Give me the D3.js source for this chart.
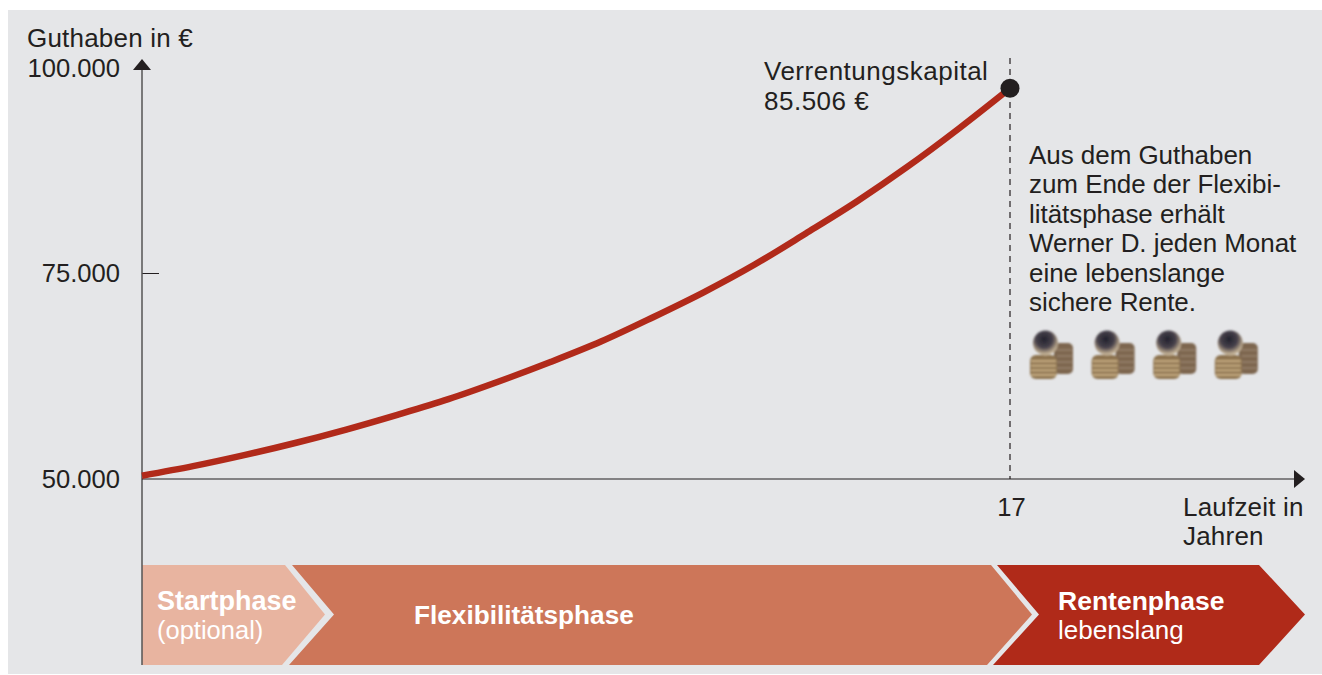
<!DOCTYPE html>
<html>
<head>
<meta charset="utf-8" />
<title>Guthaben</title>
<script src="https://cdnjs.cloudflare.com/ajax/libs/d3/7.8.5/d3.min.js"></script>
<style>
  html, body { margin: 0; padding: 0; background: #fff; }
  svg { display: block; font-family: "Liberation Sans", sans-serif; }
</style>
</head>
<body>
<svg id="chart" width="1322" height="675"></svg>
<script>
  // values
  const years = [0, 1, 2, 3, 4, 5, 6, 7, 8, 9, 10, 11, 12, 13, 14, 15, 16, 17]
  const balance = [50400, 51560, 52900, 54380, 56020, 57810, 59710, 61890, 64230, 66750, 69650, 72710, 76090, 79870, 83760, 88020, 92640, 97530]
  const yTicks = [50000, 75000, 100000]
  const yTickLabels = ['50.000', '75.000', '100.000']
  const xTicks = [17]
  const noteLines = ['Aus dem Guthaben', 'zum Ende der Flexibi-', 'litätsphase erhält', 'Werner D. jeden Monat', 'eine lebenslange', 'sichere Rente.']
  const peakLines = ['Verrentungskapital', '85.506 €']
  const coinSlots = [0, 1, 2, 3]
  const coinBands = [0, 1, 2, 3]

  const svg = d3.select('#chart')
  const x = d3.scaleLinear().domain([0, 17]).range([142, 1010])
  const y = d3.scaleLinear().domain([50000, 100000]).range([479, 68])
  const ink = '#231f20'

  const defs = svg.append('defs')
  defs.append('filter').attr('id', 'soft').append('feGaussianBlur').attr('stdDeviation', 0.8)
  const ball = defs.append('radialGradient').attr('id', 'ball').attr('cx', '45%').attr('cy', '35%').attr('r', '62%')
  ball.append('stop').attr('offset', '0%').attr('stop-color', '#23232e')
  ball.append('stop').attr('offset', '55%').attr('stop-color', '#48424c')
  ball.append('stop').attr('offset', '85%').attr('stop-color', '#a79680')
  ball.append('stop').attr('offset', '100%').attr('stop-color', '#c9b89c')

  svg.append('rect').attr('x', 8).attr('y', 10).attr('width', 1314).attr('height', 664).attr('fill', '#e5e6e8')

  // phase arrows
  const phase = svg.append('g')
  phase.append('path').attr('d', 'M997,565H1259L1305,614.5L1259,665H993L1039,614.5Z').attr('fill', '#b02a19')
  phase.append('path').attr('d', 'M292,565H991L1032,614.5L987,665H289L334,614.5Z').attr('fill', '#cd7659')
  phase.append('path').attr('d', 'M142,565H285L325,614.5L282,665H142Z').attr('fill', '#e8b4a0')

  const label = (px, py, str, size, weight) => svg.append('text').attr('x', px).attr('y', py)
    .attr('font-size', size).attr('font-weight', weight || 400).attr('fill', '#fff').text(str)
  label(157, 610, 'Startphase', 27, 700)
  label(157, 639, '(optional)', 25.5)
  label(414, 624, 'Flexibilitätsphase', 26.2, 700)
  label(1058, 610, 'Rentenphase', 26.5, 700)
  label(1058, 639, 'lebenslang', 26)

  // axes
  const yAxis = d3.axisLeft(y).tickValues(yTicks).tickSize(0).tickFormat((d, i) => yTickLabels[i])
  const yG = svg.append('g').attr('transform', 'translate(142,0)').call(yAxis)
  yG.select('.domain').remove()
  yG.selectAll('text').attr('x', -22).attr('font-size', 25.6).attr('font-family', 'inherit').attr('fill', ink)
  svg.append('line').attr('x1', 142).attr('x2', 159).attr('y1', y(75000)).attr('y2', y(75000)).attr('stroke', ink).attr('stroke-width', 1)

  const xAxis = d3.axisBottom(x).tickValues(xTicks).tickSize(0)
  const xG = svg.append('g').attr('transform', 'translate(0,479)').call(xAxis)
  xG.select('.domain').remove()
  xG.selectAll('text').attr('dy', 0).attr('y', 37).attr('x', 1).attr('font-size', 25.6).attr('font-family', 'inherit').attr('fill', ink)

  svg.append('line').attr('x1', 142).attr('x2', 142).attr('y1', 68).attr('y2', 665).attr('stroke', '#555').attr('stroke-width', 1.5)
  svg.append('line').attr('x1', 142).attr('x2', 1296).attr('y1', 479).attr('y2', 479).attr('stroke', ink).attr('stroke-width', 1.2)
  svg.append('path').attr('d', 'M142,59L151,70H133Z').attr('fill', ink)
  svg.append('path').attr('d', 'M1305,479L1294,470V488Z').attr('fill', ink)

  svg.append('line').attr('x1', x(17)).attr('x2', x(17)).attr('y1', 58).attr('y2', 479)
    .attr('stroke', ink).attr('stroke-width', 1.2).attr('stroke-dasharray', '6 5')

  // curve
  const line = d3.line().x((d, i) => x(years[i])).y(d => y(d)).curve(d3.curveCatmullRom)
  svg.append('path').datum(balance).attr('d', line).attr('fill', 'none').attr('stroke', '#b12a1a').attr('stroke-width', 6.5)
  svg.append('circle').attr('cx', x(17)).attr('cy', y(97530)).attr('r', 9.5).attr('fill', ink)

  // texts
  const block = (lines, px, py, lh, sp) => svg.append('g').selectAll('text').data(lines).enter().append('text')
    .attr('x', px).attr('y', (d, i) => py + i * lh).attr('font-size', 26).attr('letter-spacing', sp).attr('fill', ink).text(d => d)
  block(['Guthaben in €'], 27, 47, 0, 0.2)
  block(peakLines, 764, 80, 30, 0.5)
  block(noteLines, 1029, 164, 29.4, -0.05)
  block(['Laufzeit in', 'Jahren'], 1183, 516, 29, 0.2)

  // coin stacks, small drawn icon
  const coin = svg.append('g').attr('filter', 'url(#soft)').selectAll('g').data(coinSlots).enter().append('g')
    .attr('transform', d => 'translate(' + (1030 + d * 61.6) + ',330)')
  coin.append('rect').attr('x', 24).attr('y', 13).attr('width', 19).attr('height', 31).attr('rx', 5).attr('fill', '#7d6650')
  coin.selectAll('rect.back').data(coinBands).enter().append('rect').attr('class', 'back')
    .attr('x', 27).attr('y', b => 19 + b * 6).attr('width', 15).attr('height', 2).attr('fill', '#a8927a').attr('opacity', 0.5)
  coin.append('rect').attr('x', 0).attr('y', 25).attr('width', 27).attr('height', 24).attr('rx', 6).attr('fill', '#8d7350')
  coin.selectAll('rect.front').data(coinBands).enter().append('rect').attr('class', 'front')
    .attr('x', 1).attr('y', b => 30 + b * 4.6).attr('width', 25).attr('height', 2.2).attr('fill', '#d8c193').attr('opacity', 0.7)
  coin.append('circle').attr('cx', 15.5).attr('cy', 13).attr('r', 12.5).attr('fill', 'url(#ball)')
</script>
</body>
</html>
